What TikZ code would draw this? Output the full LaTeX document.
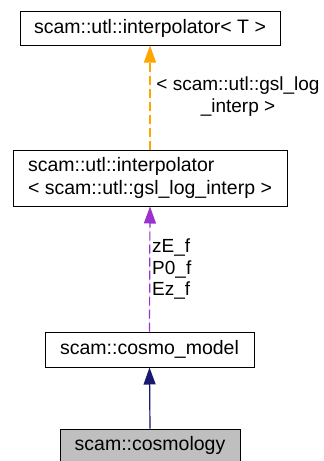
\documentclass[tikz,border=0pt]{standalone}
\usepackage{fontspec}
\setmainfont{Liberation Sans}
\usetikzlibrary{arrows.meta}

\definecolor{edgeorange}{RGB}{255,165,0}
\definecolor{edgepurple}{RGB}{154,50,205}
\definecolor{edgenavy}{RGB}{25,25,112}
\definecolor{classgrey}{RGB}{191,191,191}

\tikzset{
  classbox/.style={draw=black, line width=1pt, fill=white, inner sep=0pt},
  edgelabel/.style={inner sep=0pt, font=\fontsize{19}{22}\selectfont},
  headtip/.style={-{Triangle[length=17pt,width=12pt]}, line width=1.2pt}
}

\begin{document}
\begin{tikzpicture}[x=1pt, y=-1pt, font=\fontsize{19.5}{23}\selectfont]

  \useasboundingbox (0,0) rectangle (324,461);

  \node [classbox, minimum width=260, minimum height=34] (interpT) at (150,28)
        {scam::utl::interpolator< T >};
  \node [classbox, minimum width=274, minimum height=56, align=left] (interpLog) at (150,178)
        {scam::utl::interpolator\\< scam::utl::gsl\_log\_interp >};
  \node [classbox, minimum width=209, minimum height=35] (cosmoModel) at (149.5,349.5)
        {scam::cosmo\_model};
  \node [classbox, fill=classgrey, minimum width=180, minimum height=32] (cosmology) at (150,445)
        {scam::cosmology};

  \draw [headtip, draw=edgeorange, fill=edgeorange, dash pattern=on 9pt off 4pt]
        (interpLog.north) -- (interpT.south);
  \node [edgelabel, align=center] (tplLabel) at (238,97)
        {< scam::utl::gsl\_log\\\_interp >};

  \draw [headtip, draw=edgepurple, fill=edgepurple, dash pattern=on 9pt off 4pt]
        (cosmoModel.north) -- (interpLog.south);
  \node [edgelabel, align=left, anchor=north west, font=\fontsize{19}{21.5}\selectfont] (memLabel) at (152,239)
        {zE\_f\\P0\_f\\Ez\_f};

  \draw [headtip, draw=edgenavy, fill=edgenavy]
        (cosmology.north) -- (cosmoModel.south);

\end{tikzpicture}
\end{document}
